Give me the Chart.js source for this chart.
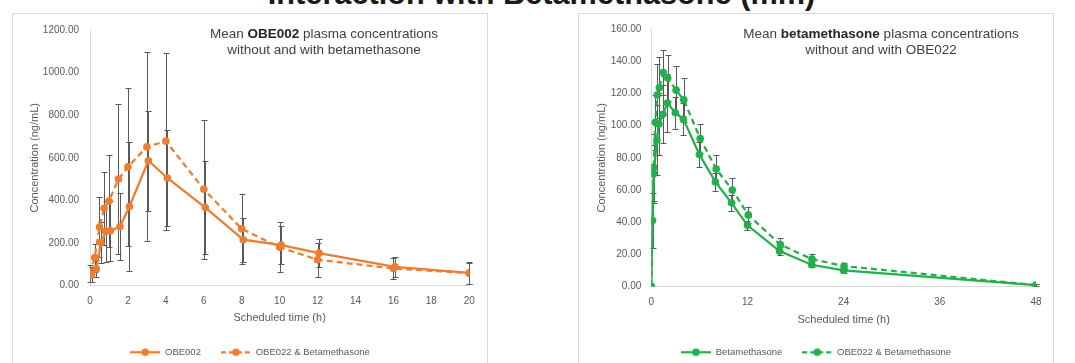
<!DOCTYPE html>
<html>
<head>
<meta charset="utf-8">
<script src="https://cdn.jsdelivr.net/npm/chart.js@4.4.1/dist/chart.umd.min.js"></script>
<style>
  body { margin: 0; width: 1075px; height: 363px; overflow: hidden; background: #fff; position: relative;
         font-family: "Liberation Sans", Arial, sans-serif; }
  #main-title { position: absolute; left: 0; top: -21px; width: 1083px; text-align: center; font-weight: bold;
                font-size: 30.7px; line-height: 30px; color: #1a1a1a; white-space: nowrap; }
  .box { position: absolute; top: 13px; width: 476px; height: 360px; box-sizing: border-box; border: 1px solid #d9d9d9; }
  canvas { position: absolute; top: 13px; }
  .ctitle { position: absolute; top: 26px; font-size: 13.5px; line-height: 16px; color: #404040; text-align: center;
            white-space: nowrap; transform: translateX(-50%); }
  .ctitle b { color: #262626; }
</style>
</head>
<body>
<div id="main-title">Interaction with Betamethasone (mm)</div>
<div class="box" style="left:12px"></div>
<div class="box" style="left:578px"></div>
<canvas id="obe_chart" width="476" height="360" style="left:12px"></canvas>
<canvas id="beta_chart" width="476" height="360" style="left:578px"></canvas>
<div class="ctitle" style="left:324px">Mean <b>OBE002</b> plasma concentrations<br>without and with betamethasone</div>
<div class="ctitle" style="left:881px">Mean <b>betamethasone</b> plasma concentrations<br>without and with OBE022</div>

<script>
// OBE002 chart (left) - solid series is plotted slightly to the right of the dashed one
const obe_time_alone = [0.08, 0.33, 0.58, 0.83, 1.08, 1.58, 2.08, 3.08, 4.08, 6.08, 8.08, 10.08, 12.08, 16.08, 20]
const obe_mean_alone = [50, 78, 201, 254, 257, 277, 371, 586, 505, 366, 215, 190, 152, 88, 59]
const obe_sd_alone   = [35, 40, 96, 144, 142, 156, 302, 235, 225, 219, 103, 88, 67, 48, 52]

const obe_time_combo = [0, 0.25, 0.5, 0.75, 1, 1.5, 2, 3, 4, 6, 8, 10, 12, 16, 20]
const obe_mean_combo = [55, 131, 275, 363, 397, 500, 557, 651, 678, 452, 266, 180, 121, 80, 58]
const obe_sd_combo   = [40, 66, 140, 171, 215, 352, 372, 444, 415, 326, 164, 117, 80, 51, 50]

// betamethasone chart (right)
const beta_time_alone = [0, 0.15, 0.3, 0.7, 0.95, 1.45, 2, 3, 4, 6, 8, 10, 12, 16, 20, 24, 48]
const beta_mean_alone = [0, 41, 70, 91, 101, 107, 114, 108, 104, 82, 65, 52, 38, 22, 13.5, 10, 0.8]
const beta_sd_alone   = [0, 17, 18, 22, 19, 18, 18, 10, 10, 8, 5.5, 5, 3, 2.5, 1.5, 1.5, 0.5]

const beta_time_combo = [0, 0.3, 0.5, 0.75, 1, 1.5, 2.05, 3.1, 4.05, 6.1, 8.1, 10.1, 12.1, 16.1, 20.05, 24.05, 48]
const beta_mean_combo = [0, 74, 102, 119, 123.5, 133, 129.5, 122, 116, 92, 73, 60, 44.5, 26, 17, 12.7, 0.8]
const beta_sd_combo   = [0, 21, 17, 19, 19, 14, 14.5, 15, 13.5, 9, 9, 7.5, 5, 4, 3, 2, 0.5]

const obe_labels  = ["OBE002", "OBE022 & Betamethasone"]
const beta_labels = ["Betamethasone", "OBE022 & Betamethasone"]

const orange = '#ED7D31'
const green = '#22B04C'
const text_grey = '#595959'

Chart.defaults.font.family = '"Liberation Sans", Arial, sans-serif'
Chart.defaults.color = text_grey

// zip times and values into {x, y} points
function to_points(times, values) {
  return times.map((t, i) => ({x: t, y: values[i]}))
}

// small picture for the legend: a line with a marker in the middle
function legend_mark(color, dashed) {
  const c = document.createElement('canvas')
  c.width = 30
  c.height = 10
  const g = c.getContext('2d')
  g.strokeStyle = color
  g.lineWidth = 2.25
  if (dashed) g.setLineDash([5, 3])
  g.beginPath()
  g.moveTo(0, 5)
  g.lineTo(30, 5)
  g.stroke()
  g.setLineDash([])
  g.fillStyle = color
  g.beginPath()
  g.arc(15, 5, 3.8, 0, Math.PI * 2)
  g.fill()
  return c
}

// draws +/- sd bars through the chart scales
const error_bars = {
  id: 'error_bars',
  beforeDatasetsDraw(chart) {
    const ctx = chart.ctx
    const xs = chart.scales.x
    const ys = chart.scales.y
    ctx.save()
    ctx.strokeStyle = text_grey
    ctx.lineWidth = 1
    chart.data.datasets.forEach(ds => {
      ds.data.forEach((p, i) => {
        const sd = ds.sd[i]
        if (!sd) return
        const px = Math.round(xs.getPixelForValue(p.x)) + 0.5
        const top = Math.round(ys.getPixelForValue(p.y + sd)) + 0.5
        const bot = Math.round(ys.getPixelForValue(Math.max(p.y - sd, 0))) + 0.5
        ctx.beginPath()
        ctx.moveTo(px, top)
        ctx.lineTo(px, bot)
        ctx.moveTo(px - 3, top)
        ctx.lineTo(px + 3, top)
        ctx.moveTo(px - 3, bot)
        ctx.lineTo(px + 3, bot)
        ctx.stroke()
      })
    })
    ctx.restore()
  }
}

function make_dataset(label, color, dashed, times, values, sd) {
  return {
    label: label,
    data: to_points(times, values),
    sd: sd,
    borderColor: color,
    backgroundColor: color,
    borderWidth: 2.25,
    borderDash: dashed ? [6, 4] : [],
    pointRadius: 3.8,
    pointBorderWidth: 0,
    pointBackgroundColor: color,
    tension: 0,
    legendMark: legend_mark(color, dashed)
  }
}

function generate_chart(canvas_id, datasets, s) {
  const config = {
    type: 'line',
    data: {datasets: datasets},
    options: {
      responsive: false,
      animation: false,
      layout: {padding: {left: 0, right: 0, top: 12.5, bottom: 6}},
      scales: {
        x: {
          type: 'linear',
          min: 0,
          max: s.x_max,
          grid: {display: false, drawTicks: false},
          border: {display: true, color: '#d9d9d9', width: 1},
          ticks: {stepSize: s.x_step, padding: 10, font: {size: 10}, color: text_grey},
          title: {display: true, text: 'Scheduled time (h)', font: {size: 11}, color: text_grey,
                  padding: {top: 0, bottom: s.x_title_pad}},
          afterFit(scale) { scale.height = s.x_height }
        },
        y: {
          min: 0,
          max: s.y_max,
          grid: {display: false, drawTicks: false},
          border: {display: true, color: '#d9d9d9', width: 1},
          ticks: {stepSize: s.y_step, padding: s.y_tick_pad, font: {size: 10}, color: text_grey,
                  callback: v => v.toFixed(2)},
          title: {display: true, text: 'Concentration (ng/mL)', font: {size: 11}, color: text_grey,
                  padding: {top: s.y_title_pad, bottom: 0}},
          afterFit(scale) { scale.width = s.y_width }
        },
        // empty axis on the right, only keeps the gap to the frame so the legend stays centred in the box
        gap: {
          type: 'linear',
          position: 'right',
          grid: {display: false, drawTicks: false},
          border: {display: false},
          ticks: {display: false},
          afterFit(scale) { scale.width = s.right_pad }
        }
      },
      plugins: {
        legend: {
          position: 'bottom',
          labels: {
            usePointStyle: true,
            pointStyleWidth: 30,
            padding: 20,
            font: {size: 9.5},
            color: text_grey,
            generateLabels(chart) {
              const items = Chart.defaults.plugins.legend.labels.generateLabels(chart)
              items.forEach(it => { it.pointStyle = chart.data.datasets[it.datasetIndex].legendMark })
              return items
            }
          }
        },
        tooltip: {enabled: false}
      }
    },
    plugins: [error_bars]
  }
  return new Chart(document.getElementById(canvas_id), config)
}

generate_chart('obe_chart', [
  make_dataset(obe_labels[0], orange, false, obe_time_alone, obe_mean_alone, obe_sd_alone),
  make_dataset(obe_labels[1], orange, true, obe_time_combo, obe_mean_combo, obe_sd_combo)
], {x_max: 20, x_step: 2, y_max: 1200, y_step: 200, y_width: 78, right_pad: 18.7,
    x_height: 42, x_title_pad: 2.6, y_title_pad: 16.4, y_tick_pad: 11})

generate_chart('beta_chart', [
  make_dataset(beta_labels[0], green, false, beta_time_alone, beta_mean_alone, beta_sd_alone),
  make_dataset(beta_labels[1], green, true, beta_time_combo, beta_mean_combo, beta_sd_combo)
], {x_max: 48, x_step: 12, y_max: 160, y_step: 20, y_width: 73.3, right_pad: 18,
    x_height: 41, x_title_pad: 1, y_title_pad: 17, y_tick_pad: 10})
</script>
</body>
</html>
